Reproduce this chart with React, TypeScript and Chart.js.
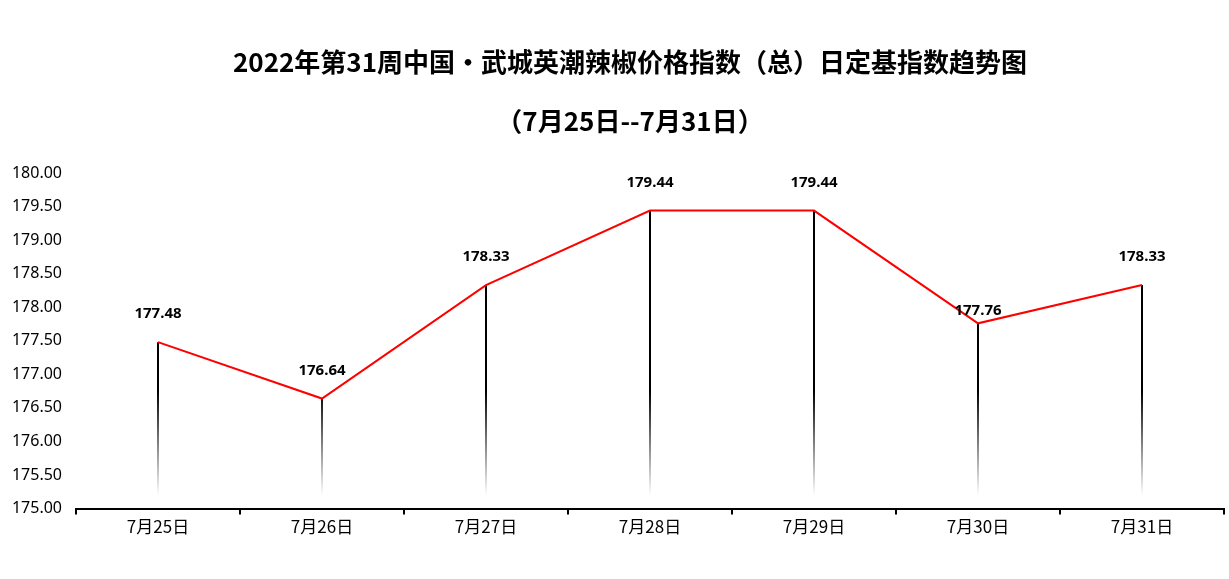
import React, { useEffect, useRef } from "react";
import { Chart, registerables } from "chart.js";

Chart.register(...registerables);

const titleLines = ["2022年第31周中国·武城英潮辣椒价格指数（总）日定基指数趋势图", "（7月25日--7月31日）"];
const categories = ["7月25日", "7月26日", "7月27日", "7月28日", "7月29日", "7月30日", "7月31日"];
const indexValues = [177.48, 176.64, 178.33, 179.44, 179.44, 177.76, 178.33];
const yMin = 175;
const yMax = 180;
const yStep = 0.5;

const titlePlugin = {
  id: "customTitle",
  afterDraw(chart: any) {
    const { ctx } = chart;
    ctx.save();
    ctx.font = "bold 26px 'Noto Sans CJK SC', sans-serif";
    ctx.fillStyle = "#000";
    ctx.textAlign = "center";
    ctx.textBaseline = "middle";
    const cx = 630;
    ctx.fillText(titleLines[0], cx, 62);
    ctx.fillText(titleLines[1], cx, 121);
    ctx.restore();
  },
};

const dropLinePlugin = {
  id: "dropLines",
  beforeDatasetsDraw(chart: any) {
    const { ctx, scales } = chart;
    const y = scales.y;
    const meta = chart.getDatasetMeta(0);
    const gTop = y.getPixelForValue(176.75);
    const gBot = y.getPixelForValue(175.2);
    const grad = ctx.createLinearGradient(0, gTop, 0, gBot);
    grad.addColorStop(0, "rgba(0,0,0,1)");
    grad.addColorStop(1, "rgba(0,0,0,0)");
    ctx.save();
    ctx.strokeStyle = grad;
    ctx.lineWidth = 2;
    meta.data.forEach((pt: any) => {
      ctx.beginPath();
      ctx.moveTo(pt.x, pt.y);
      ctx.lineTo(pt.x, gBot);
      ctx.stroke();
    });
    ctx.restore();
  },
};

const labelPlugin = {
  id: "valueLabels",
  afterDatasetsDraw(chart: any) {
    const { ctx } = chart;
    const meta = chart.getDatasetMeta(0);
    const ds = chart.data.datasets[0];
    ctx.save();
    ctx.font = "bold 15px 'Noto Sans', sans-serif";
    ctx.fillStyle = "#000";
    ctx.textAlign = "center";
    ctx.textBaseline = "middle";
    meta.data.forEach((pt: any, i: number) => {
      const off = i === 5 ? 13 : 28;
      ctx.fillText(Number(ds.data[i]).toFixed(2), pt.x, pt.y - off);
    });
    ctx.restore();
  },
};

export default function App() {
  const ref = useRef<HTMLCanvasElement | null>(null);
  useEffect(() => {
    if (!ref.current) return;
    const chart = new Chart(ref.current, {
      type: "line",
      data: {
        labels: categories,
        datasets: [
          {
            data: indexValues,
            borderColor: "#FF0000",
            borderWidth: 2,
            pointRadius: 0,
            tension: 0,
            fill: false,
          },
        ],
      },
      options: {
        animation: false,
        responsive: true,
        maintainAspectRatio: false,
        layout: { padding: { left: 0, right: 5, top: 173, bottom: 40 } },
        plugins: {
          legend: { display: false },
          tooltip: { enabled: false },
          title: { display: false },
        },
        scales: {
          x: {
            offset: true,
            grid: { offset: true, drawOnChartArea: false, drawTicks: true, tickLength: 6, color: "#000", lineWidth: 2 },
            border: { display: true, color: "#000", width: 2 },
            ticks: { color: "#000", font: { family: "'Noto Sans CJK SC', sans-serif", size: 17 }, padding: 2 },
          },
          y: {
            min: yMin,
            max: yMax,
            afterFit(scale: any) {
              scale.width = 76;
            },
            grid: { display: false, drawTicks: false },
            border: { display: false },
            ticks: {
              stepSize: yStep,
              color: "#000",
              padding: 14,
              font: { family: "'Noto Sans', sans-serif", size: 16 },
              callback: (v: any) => Number(v).toFixed(2),
            },
          },
        },
      },
      plugins: [titlePlugin, dropLinePlugin, labelPlugin],
    });
    return () => chart.destroy();
  }, []);
  return (
    <div style={{ position: "fixed", left: 0, top: 0, width: "1229px", height: "579px", background: "#fff" }}>
      <canvas ref={ref} />
    </div>
  );
}
